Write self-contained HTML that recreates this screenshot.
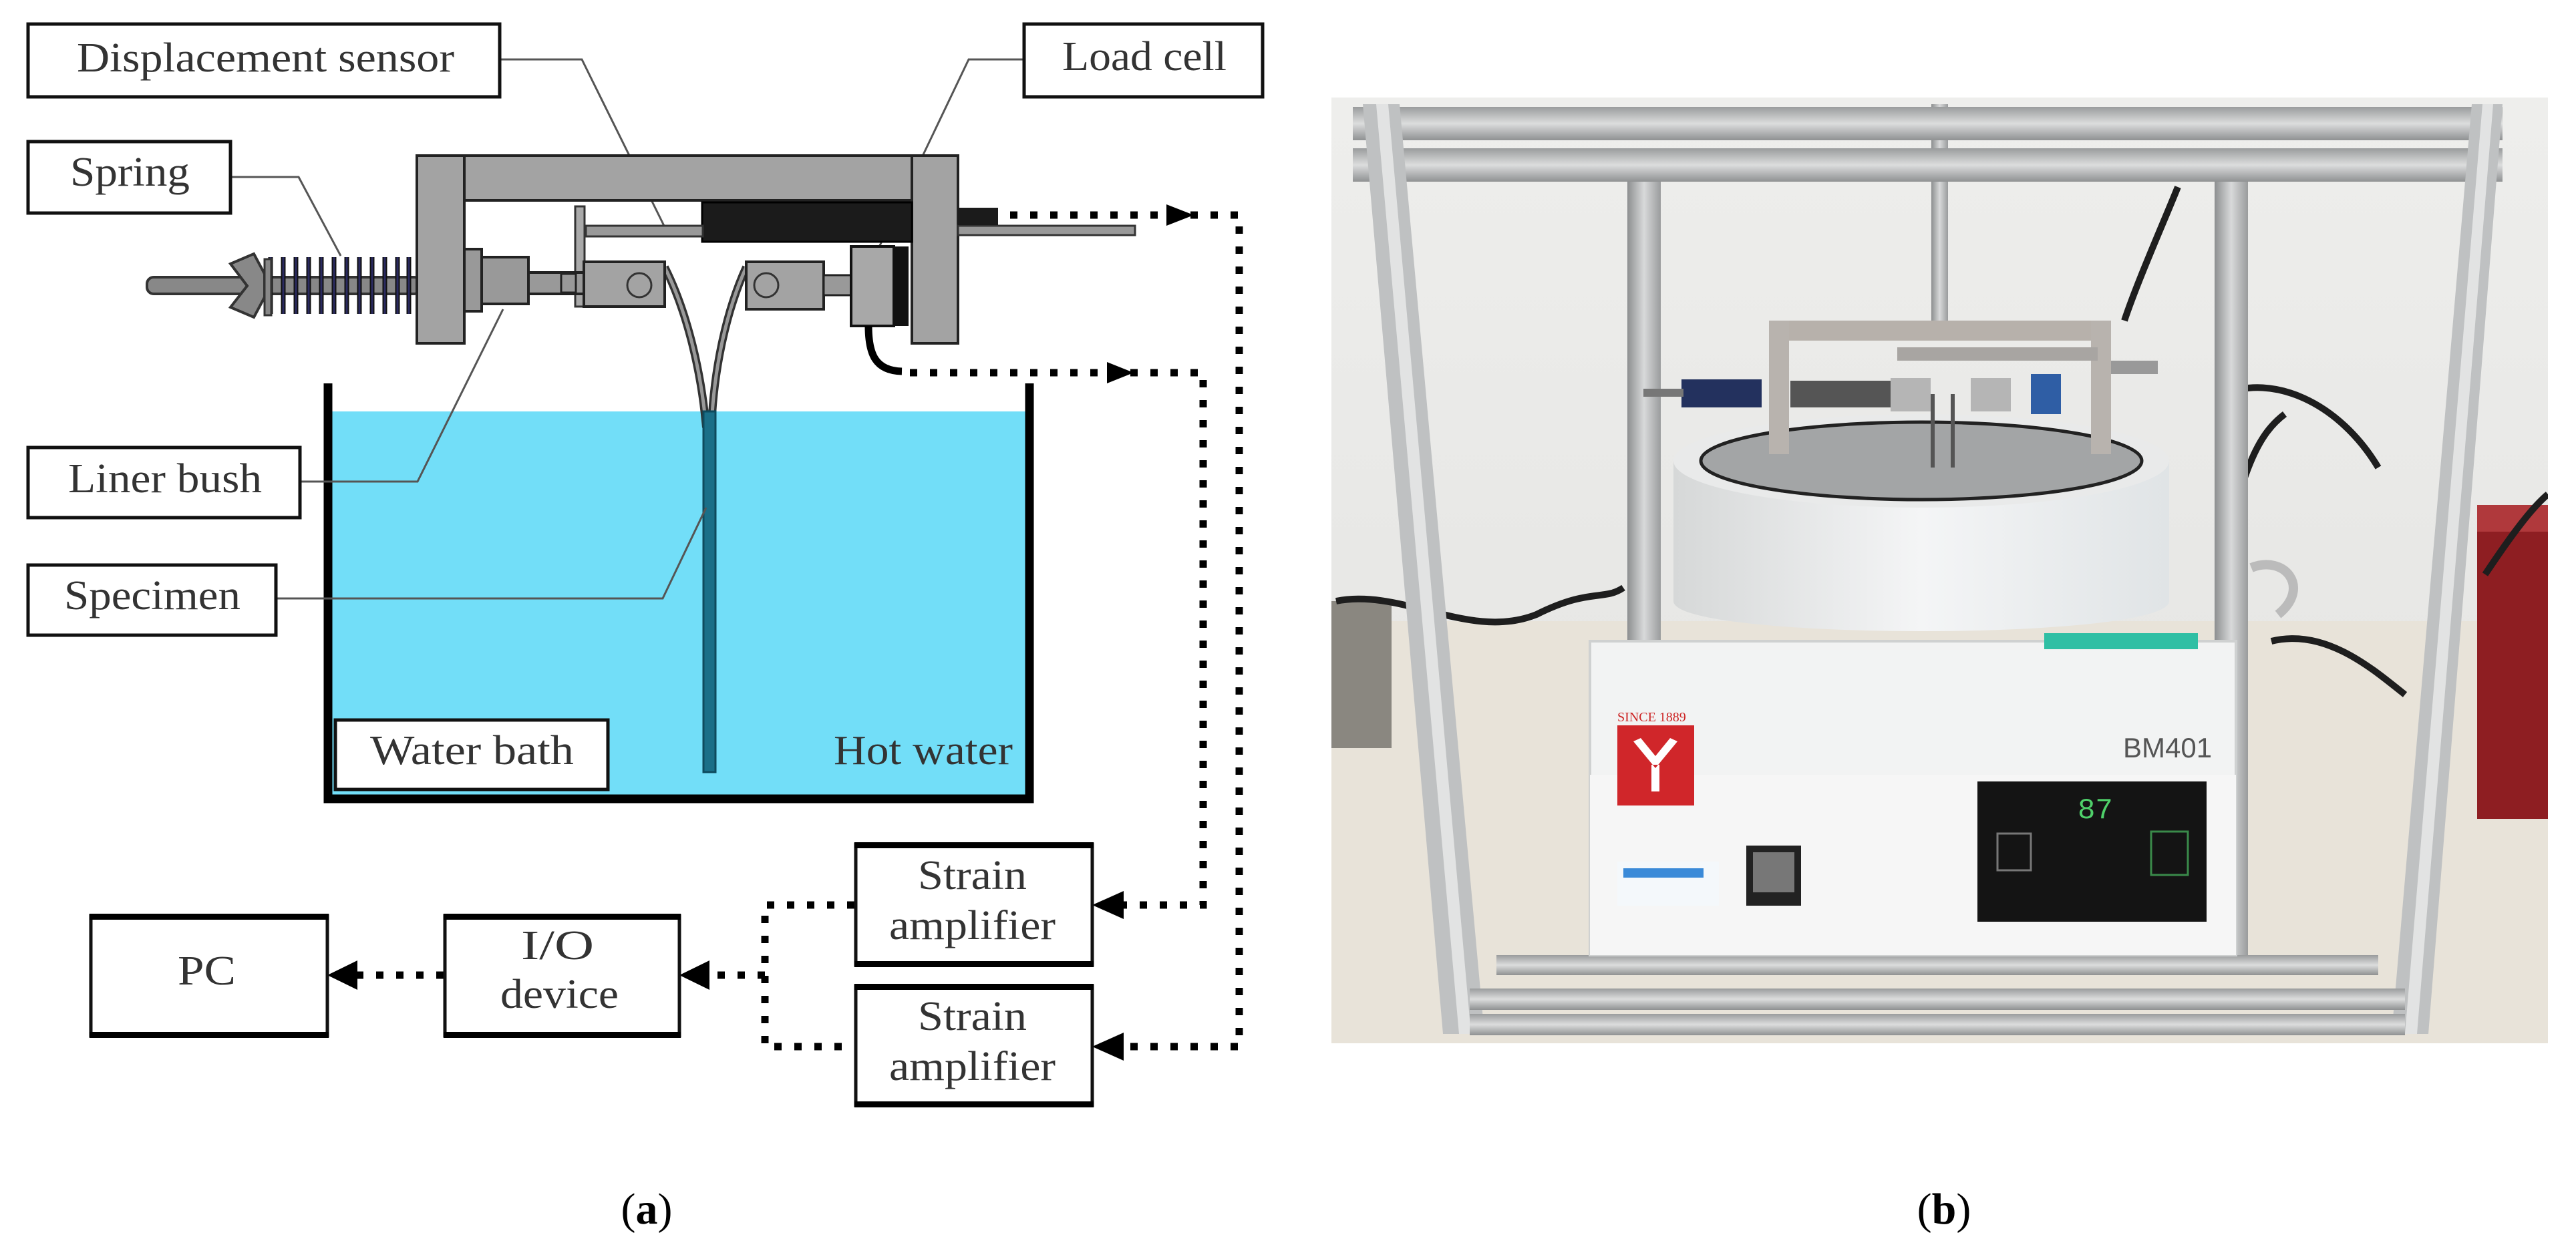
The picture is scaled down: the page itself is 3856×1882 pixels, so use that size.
<!DOCTYPE html>
<html><head><meta charset="utf-8"><style>
html,body{margin:0;padding:0;background:#fff;}
svg{display:block}
text{font-family:"Liberation Serif",serif;fill:#333}
</style></head><body>
<svg width="3856" height="1882" viewBox="0 0 3856 1882" xmlns="http://www.w3.org/2000/svg">
<rect width="3856" height="1882" fill="#fff"/>

<!-- ===== (a) diagram ===== -->
<rect x="491" y="616" width="1046" height="578" fill="#72def8"/>
<path d="M491 574 V1196 H1541 V574" fill="none" stroke="#000" stroke-width="13"/>

<path d="M995 400 C1030 470 1050 560 1057 640" fill="none" stroke="#333" stroke-width="12"/>
<path d="M995 400 C1030 470 1050 560 1057 640" fill="none" stroke="#999" stroke-width="5"/>
<path d="M1117 400 C1085 470 1068 560 1065 640" fill="none" stroke="#333" stroke-width="12"/>
<path d="M1117 400 C1085 470 1068 560 1065 640" fill="none" stroke="#999" stroke-width="5"/>
<rect x="1053" y="616" width="18" height="540" fill="#1a6f88" stroke="#0d4b5e" stroke-width="3"/>

<g fill="none" stroke="#555" stroke-width="3">
<polyline points="748,89 871,89 995,340"/>
<polyline points="345,265 447,265 510,383"/>
<polyline points="449,721 625,721 753,463"/>
<polyline points="413,896 992,896 1057,760"/>
<polyline points="1533,89 1450,89 1313,376"/>
</g>

<rect x="220" y="415" width="410" height="25" rx="10" fill="#888" stroke="#333" stroke-width="4"/>
<path d="M345 395 L380 380 L396 410 L396 445 L380 475 L345 460 L370 428 Z" fill="#888" stroke="#333" stroke-width="4"/>
<g stroke="#111" stroke-width="7" fill="none">
<path d="M405 385 V470 M424 385 V470 M443 385 V470 M462 385 V470 M481 385 V470 M500 385 V470 M519 385 V470 M538 385 V470 M557 385 V470 M576 385 V470 M595 385 V470 M612 385 V470"/>
</g>
<g stroke="#2a2a60" stroke-width="3" fill="none">
<path d="M405 385 V470 M424 385 V470 M443 385 V470 M462 385 V470 M481 385 V470 M500 385 V470 M519 385 V470 M538 385 V470 M557 385 V470 M576 385 V470 M595 385 V470 M612 385 V470"/>
</g>
<rect x="396" y="388" width="10" height="84" fill="#888" stroke="#333" stroke-width="3"/>

<g fill="#a3a3a3" stroke="#222" stroke-width="4">
<rect x="624" y="233" width="810" height="67"/>
<rect x="624" y="233" width="71" height="281"/>
<rect x="1365" y="233" width="69" height="281"/>
</g>

<rect x="1051" y="303" width="314" height="59" fill="#1b1b1b" stroke="#000" stroke-width="3"/>
<rect x="877" y="338" width="175" height="16" fill="#999" stroke="#333" stroke-width="3"/>
<rect x="1434" y="338" width="265" height="14" fill="#999" stroke="#333" stroke-width="3"/>
<rect x="1434" y="311" width="60" height="26" fill="#1b1b1b"/>
<rect x="861" y="309" width="14" height="150" fill="#aaa" stroke="#333" stroke-width="3"/>

<rect x="695" y="373" width="26" height="93" fill="#999" stroke="#222" stroke-width="4"/>
<rect x="721" y="385" width="70" height="70" fill="#999" stroke="#222" stroke-width="4"/>
<rect x="791" y="408" width="83" height="32" fill="#999" stroke="#222" stroke-width="4"/>
<rect x="840" y="410" width="22" height="28" fill="#999" stroke="#222" stroke-width="3"/>

<rect x="874" y="392" width="121" height="67" fill="#a3a3a3" stroke="#222" stroke-width="4"/>
<circle cx="957" cy="427" r="18" fill="none" stroke="#333" stroke-width="3"/>
<rect x="1117" y="392" width="116" height="71" fill="#a3a3a3" stroke="#222" stroke-width="4"/>
<circle cx="1147" cy="427" r="18" fill="none" stroke="#333" stroke-width="3"/>
<rect x="1233" y="412" width="41" height="30" fill="#999" stroke="#222" stroke-width="3"/>

<rect x="1274" y="369" width="64" height="119" fill="#a8a8a8" stroke="#111" stroke-width="4"/>
<rect x="1338" y="369" width="22" height="119" fill="#111"/>
<path d="M1300 488 C1300 530 1310 555 1350 556" fill="none" stroke="#000" stroke-width="11"/>

<g fill="none" stroke="#000" stroke-width="11" stroke-dasharray="11 19">
<polyline points="1512,322 1855,322 1855,1567 1680,1567"/>
<polyline points="1362,558 1801,558 1801,1355 1680,1355"/>
<polyline points="1279,1355 1145,1355 1145,1567 1279,1567"/>
<line x1="1145" y1="1460" x2="1050" y2="1460"/>
<line x1="664" y1="1460" x2="525" y2="1460"/>
</g>
<g fill="#000">
<polygon points="1746,306 1787,322 1746,338"/>
<polygon points="1657,542 1697,558 1657,574"/>
<polygon points="1635,1355 1682,1334 1682,1376"/>
<polygon points="1635,1567 1682,1546 1682,1588"/>
<polygon points="1017,1460 1062,1438 1062,1482"/>
<polygon points="490,1460 535,1438 535,1482"/>
</g>

<g fill="#fff" stroke="#111" stroke-width="5">
<rect x="42" y="36" width="706" height="109"/>
<rect x="42" y="212" width="303" height="107"/>
<rect x="42" y="670" width="407" height="105"/>
<rect x="42" y="846" width="371" height="105"/>
<rect x="1533" y="36" width="357" height="109"/>
<rect x="502" y="1078" width="408" height="104"/>
<rect x="136" y="1371" width="354" height="180"/>
<rect x="666" y="1371" width="351" height="180"/>
<rect x="1281" y="1264" width="354" height="181"/>
<rect x="1281" y="1476" width="354" height="179"/>
</g>
<g fill="#000">
<rect x="134" y="1368" width="358" height="9"/><rect x="134" y="1545" width="358" height="9"/>
<rect x="664" y="1368" width="355" height="9"/><rect x="664" y="1545" width="355" height="9"/>
<rect x="1279" y="1261" width="358" height="9"/><rect x="1279" y="1439" width="358" height="9"/>
<rect x="1279" y="1473" width="358" height="9"/><rect x="1279" y="1649" width="358" height="9"/>
</g>

<g font-size="62">
<text x="115" y="107" textLength="565" lengthAdjust="spacingAndGlyphs">Displacement sensor</text>
<text x="105" y="278" textLength="179" lengthAdjust="spacingAndGlyphs">Spring</text>
<text x="102" y="737" textLength="290" lengthAdjust="spacingAndGlyphs">Liner bush</text>
<text x="96" y="912" textLength="264" lengthAdjust="spacingAndGlyphs">Specimen</text>
<text x="1590" y="105" textLength="246" lengthAdjust="spacingAndGlyphs">Load cell</text>
<text x="554" y="1144" textLength="305" lengthAdjust="spacingAndGlyphs">Water bath</text>
<text x="1248" y="1144" textLength="268" lengthAdjust="spacingAndGlyphs">Hot water</text>
<text x="266" y="1474" textLength="87" lengthAdjust="spacingAndGlyphs">PC</text>
<text x="780" y="1436" textLength="109" lengthAdjust="spacingAndGlyphs">I/O</text>
<text x="749" y="1509" textLength="177" lengthAdjust="spacingAndGlyphs">device</text>
<text x="1374" y="1331" textLength="163" lengthAdjust="spacingAndGlyphs">Strain</text>
<text x="1331" y="1406" textLength="249" lengthAdjust="spacingAndGlyphs">amplifier</text>
<text x="1374" y="1542" textLength="163" lengthAdjust="spacingAndGlyphs">Strain</text>
<text x="1331" y="1617" textLength="249" lengthAdjust="spacingAndGlyphs">amplifier</text>
</g>

<text x="968" y="1832" font-size="66" text-anchor="middle" style="fill:#000">(<tspan font-weight="bold">a</tspan>)</text>
<text x="2910" y="1832" font-size="66" text-anchor="middle" style="fill:#000">(<tspan font-weight="bold">b</tspan>)</text>

<!-- ===== (b) photo approximation ===== -->
<defs>
<clipPath id="ph"><rect x="1993" y="146" width="1821" height="1416"/></clipPath>
<linearGradient id="wall" x1="0" y1="0" x2="0" y2="1"><stop offset="0" stop-color="#eeeeec"/><stop offset="1" stop-color="#e2e2e0"/></linearGradient>
<linearGradient id="cyl" x1="0" y1="0" x2="1" y2="0"><stop offset="0" stop-color="#d6d8d8"/><stop offset="0.5" stop-color="#f4f5f6"/><stop offset="1" stop-color="#e0e4e6"/></linearGradient>
<linearGradient id="bar" x1="0" y1="0" x2="1" y2="0"><stop offset="0" stop-color="#8d8f90"/><stop offset="0.5" stop-color="#d8d9da"/><stop offset="1" stop-color="#9a9c9d"/></linearGradient>
<linearGradient id="hbar" x1="0" y1="0" x2="0" y2="1"><stop offset="0" stop-color="#9a9c9d"/><stop offset="0.5" stop-color="#dcdddd"/><stop offset="1" stop-color="#8f9192"/></linearGradient>
</defs>
<g clip-path="url(#ph)">
<rect x="1993" y="146" width="1821" height="1416" fill="url(#wall)"/>
<rect x="1993" y="930" width="1821" height="632" fill="#e8e3d9"/>
<rect x="1993" y="900" width="90" height="220" fill="#8a8780"/>
<rect x="3708" y="756" width="106" height="470" fill="#8e1e22"/>
<rect x="3708" y="756" width="106" height="40" fill="#b0393c"/>
<g fill="none" stroke="#1e1e1e" stroke-width="10">
<path d="M3180 480 C3200 420 3240 330 3260 280"/>
<path d="M3330 590 C3400 560 3500 600 3560 700"/>
<path d="M3400 960 C3480 940 3550 1000 3600 1040"/>
<path d="M2000 900 C2100 880 2200 960 2300 920 C2380 880 2400 900 2430 880"/>
<path d="M3330 820 C3360 700 3380 650 3420 620"/>
<path d="M3720 860 C3760 800 3790 760 3814 740"/>
</g>
<path d="M3370 850 C3420 830 3460 880 3410 920" fill="none" stroke="#bbb" stroke-width="14"/>
<rect x="2436" y="260" width="50" height="1186" fill="url(#bar)"/>
<rect x="3315" y="260" width="50" height="1186" fill="url(#bar)"/>
<rect x="2891" y="156" width="25" height="330" fill="url(#bar)"/>
<rect x="2240" y="1430" width="1320" height="30" fill="url(#hbar)"/>
<rect x="2380" y="960" width="967" height="470" fill="#f2f3f3" stroke="#cfd1d1" stroke-width="4"/>
<rect x="2380" y="1160" width="967" height="270" fill="#f6f6f6"/>
<path d="M2505 690 V900 C2505 960 3247 960 3247 900 V690 Z" fill="url(#cyl)"/>
<ellipse cx="2876" cy="690" rx="371" ry="70" fill="#e9eaea"/>
<ellipse cx="2876" cy="690" rx="330" ry="58" fill="#a3a5a6" stroke="#222" stroke-width="5"/>
<rect x="2648" y="480" width="512" height="30" fill="#b7b1ab"/>
<rect x="2648" y="480" width="30" height="200" fill="#b8b3ae"/>
<rect x="3130" y="480" width="30" height="200" fill="#b8b3ae"/>
<rect x="2840" y="520" width="300" height="20" fill="#a8a5a2"/>
<rect x="2517" y="568" width="120" height="42" fill="#23315e"/>
<rect x="2460" y="582" width="60" height="12" fill="#777"/>
<rect x="2680" y="570" width="150" height="40" fill="#555"/>
<rect x="2830" y="566" width="60" height="50" fill="#b5b5b5"/>
<rect x="2950" y="566" width="60" height="50" fill="#b5b5b5"/>
<rect x="3040" y="560" width="45" height="60" fill="#2f5ea5"/>
<rect x="3160" y="540" width="70" height="20" fill="#999"/>
<rect x="2890" y="590" width="6" height="110" fill="#555"/>
<rect x="2920" y="590" width="6" height="110" fill="#555"/>
<rect x="3060" y="948" width="230" height="24" fill="#2fbfa4"/>
<rect x="2421" y="1086" width="115" height="120" fill="#d0262a"/>
<path d="M2445 1110 L2478 1150 L2511 1110 L2500 1105 L2478 1132 L2456 1105 Z M2472 1145 h12 v40 h-12z" fill="#fff"/>
<text x="2421" y="1080" font-size="20" style="fill:#c22">SINCE 1889</text>
<text x="3178" y="1134" font-size="42" style="fill:#555;font-family:'Liberation Sans',sans-serif">BM401</text>
<rect x="2421" y="1290" width="152" height="66" fill="#f4f8fb"/>
<rect x="2430" y="1300" width="120" height="14" fill="#3a8ad8"/>
<rect x="2614" y="1266" width="82" height="90" fill="#222"/>
<rect x="2624" y="1276" width="62" height="60" fill="#777"/>
<rect x="2960" y="1170" width="343" height="210" fill="#141414"/>
<text x="3110" y="1225" font-size="44" style="fill:#4fd06a;font-family:'Liberation Mono',monospace">87</text>
<rect x="2990" y="1248" width="50" height="55" fill="none" stroke="#777" stroke-width="3"/>
<rect x="3220" y="1245" width="55" height="65" fill="none" stroke="#3a8a4a" stroke-width="3"/>
<!-- front frame -->
<rect x="2025" y="160" width="1721" height="50" fill="url(#hbar)"/>
<rect x="2025" y="222" width="1721" height="50" fill="url(#hbar)"/>
<path d="M2040 156 L2095 156 L2222 1548 L2160 1548 Z" fill="#bfc1c2"/>
<path d="M2060 156 L2078 156 L2202 1548 L2184 1548 Z" fill="#e2e3e3"/>
<path d="M3700 156 L3746 156 L3635 1548 L3580 1548 Z" fill="#bfc1c2"/>
<path d="M3716 156 L3732 156 L3618 1548 L3600 1548 Z" fill="#e2e3e3"/>
<rect x="2200" y="1480" width="1400" height="32" fill="url(#hbar)"/>
<rect x="2200" y="1518" width="1400" height="32" fill="url(#hbar)"/>
</g>
</svg>
</body></html>
